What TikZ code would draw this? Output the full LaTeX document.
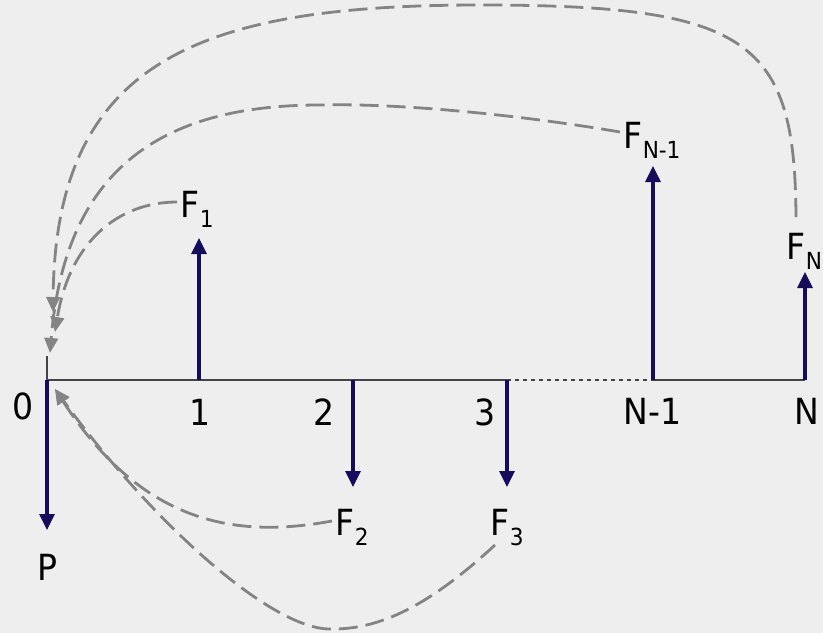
\documentclass[tikz,border=0pt]{standalone}
\usepackage{fontspec}
\setmainfont{DejaVu Sans}[FakeStretch=0.92]
\usetikzlibrary{arrows.meta}
\definecolor{bgcol}{HTML}{EEEEEE}
\definecolor{navy}{RGB}{22,12,92}
\definecolor{axisgray}{HTML}{444444}
\definecolor{curvegray}{HTML}{848484}
\newcommand{\lowsub}[1]{\kern0.5pt\raisebox{-10pt}{\fontsize{23.5}{24}\selectfont #1}}
\begin{document}
\begin{tikzpicture}[x=1pt,y=-1pt,
  lbl/.style={font=\fontsize{36}{40}\selectfont, inner sep=0pt, text=black},
  timeline/.style={draw=axisgray, line width=2pt},
  dotline/.style={draw=axisgray, line width=2pt, dash pattern=on 4pt off 4pt},
  cashflow/.style={draw=navy, line width=3.2pt, -{Triangle[length=16pt,width=15pt]}},
  backcurve/.style={draw=curvegray, line width=2.8pt, dash pattern=on 19pt off 8pt,
     -{Triangle[length=15pt,width=13.5pt]}}]
\fill[bgcol] (0,0) rectangle (823,633);
\useasboundingbox (0,0) rectangle (823,633);

% axis points
\coordinate (t0) at (47,380);
\coordinate (t1) at (199,380);
\coordinate (t2) at (353,380);
\coordinate (t3) at (507,380);
\coordinate (tN1) at (653,380);
\coordinate (tN) at (805,380);
\coordinate (k0) at (47,356);

% arrow tips
\coordinate (a0) at (47,530);
\coordinate (a1) at (199,238);
\coordinate (a2) at (353,487);
\coordinate (a3) at (507,487);
\coordinate (aN1) at (653,166);
\coordinate (aN) at (805,272);

% axis
\draw[timeline] (t0) -- (t3);
\draw[dotline] (t3) -- (tN1);
\draw[timeline] (tN1) -- (tN);
\draw[draw=axisgray, line width=1.5pt] (t0) -- (k0);

% cash flow arrows
\draw[cashflow] (t0) -- (a0);
\draw[cashflow] (t1) -- (a1);
\draw[cashflow] (t2) -- (a2);
\draw[cashflow] (t3) -- (a3);
\draw[cashflow] (tN1) -- (aN1);
\draw[cashflow] (tN) -- (aN);

% tick labels
\node[lbl, anchor=base] (l0) at (23.5,419) {0};
\node[lbl, anchor=base] (l1) at (200,425) {1};
\node[lbl, anchor=base] (l2) at (324,425) {2};
\node[lbl, anchor=base] (l3) at (485,425) {3};
\node[lbl, anchor=base] (lN1) at (652.5,424) {N-1};
\node[lbl, anchor=base] (lN) at (806.5,424) {N};

% flow labels
\node[lbl, anchor=base] (lP) at (47.5,580) {P};
\node[lbl, anchor=base west] (lF1) at (180,217) {F\lowsub{1}};
\node[lbl, anchor=base west] (lF2) at (335,535) {F\lowsub{2}};
\node[lbl, anchor=base west] (lF3) at (490,535) {F\lowsub{3}};
\node[lbl, anchor=base west] (lFN1) at (623,148) {F\lowsub{N-1}};
\node[lbl, anchor=base west] (lFN) at (786,259) {F\lowsub{N}};

% curve ends
\coordinate (s1) at (177,202);
\coordinate (s2) at (332,521);
\coordinate (s3) at (495,545);
\coordinate (sN1) at (620,132);
\coordinate (sN) at (796,217);
\coordinate (eN) at (53,312);
\coordinate (e1) at (55,332);
\coordinate (eN1) at (50,353);
\coordinate (e23) at (55,389);

% discounting curves
\draw[backcurve] (sN) .. controls (795,40) and (750,5) .. (480,5)
                      .. controls (200,5) and (55,60) .. (eN);
\draw[backcurve] (sN1) .. controls (520,115) and (400,103) .. (320,105)
                       .. controls (160,105) and (65,170) .. (eN1);
\draw[backcurve] (s1) .. controls (120,202) and (70,240) .. (e1);
\draw[backcurve] (s2) .. controls (230,540) and (140,520) .. (e23);
\draw[backcurve] (s3) .. controls (430,605) and (380,630) .. (330,629)
                      .. controls (270,629) and (150,520) .. (e23);
\end{tikzpicture}
\end{document}
